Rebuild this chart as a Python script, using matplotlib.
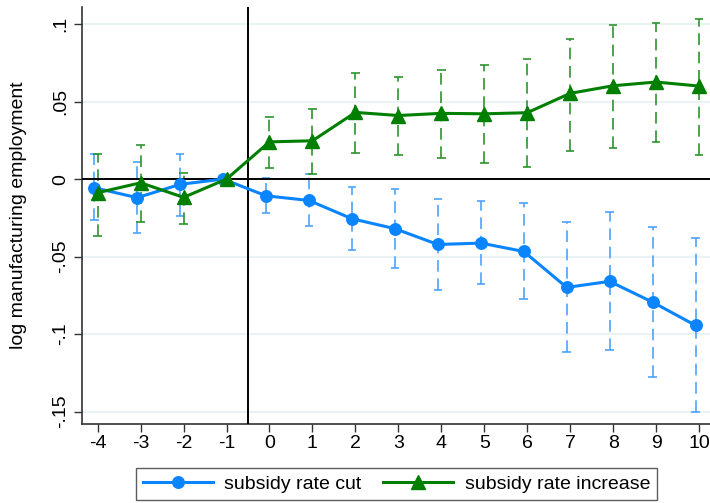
import matplotlib
matplotlib.use("Agg")
import matplotlib.pyplot as plt
import numpy as np

plt.rcParams['font.family'] = ['Liberation Sans', 'DejaVu Sans']

# Event time relative to the subsidy change
periods = [-4, -3, -2, -1, 0, 1, 2, 3, 4, 5, 6, 7, 8, 9, 10]
xtick_labels = [str(p) for p in periods]

# Subsidy rate cut: point estimates and 95% confidence bounds
cut_coef = [-0.0056, -0.012, -0.0034, 0.0, -0.0108, -0.0138, -0.0256, -0.032,
            -0.0422, -0.0413, -0.0467, -0.0699, -0.066, -0.0794, -0.0944]
cut_hi = [0.0163, 0.0108, 0.0163, 0.0, 0.0008, 0.003, -0.005, -0.0063,
          -0.0129, -0.0144, -0.0157, -0.028, -0.0215, -0.0308, -0.0383]
cut_lo = [-0.0265, -0.0346, -0.0237, 0.0, -0.0222, -0.0303, -0.0458, -0.0576,
          -0.0714, -0.0675, -0.0772, -0.1114, -0.1105, -0.1277, -0.1505]

# Subsidy rate increase: point estimates and 95% confidence bounds
inc_coef = [-0.0088, -0.0024, -0.0118, 0.0, 0.024, 0.0247, 0.043, 0.041,
            0.0424, 0.0421, 0.0428, 0.0553, 0.0602, 0.0626, 0.06]
inc_hi = [0.0163, 0.022, 0.004, 0.0, 0.0398, 0.0455, 0.0684, 0.0656,
          0.0706, 0.0734, 0.0776, 0.0905, 0.0996, 0.1005, 0.103]
inc_lo = [-0.037, -0.028, -0.029, 0.0, 0.0073, 0.003, 0.0166, 0.0155,
          0.0134, 0.0103, 0.0077, 0.018, 0.0202, 0.024, 0.0155]

yticks = [0.1, 0.05, 0.0, -0.05, -0.1, -0.15]
ytick_labels = ['.1', '.05', '0', '-.05', '-.1', '-.15']

blue = '#0a85ff'
blue_ci = '#4aa3ff'
green = '#007f00'
green_ci = '#2e932e'

fig = plt.figure(figsize=(7.10, 5.03), dpi=100)
ax = fig.add_axes([82 / 710, 1 - 424 / 503, (710 - 82) / 710, (424 - 7) / 503])

x = np.array(periods, dtype=float)
x_cut = x - 0.08
x_inc = x + 0.0


def draw_ci(xs, lo, hi, color):
    lo = np.array(lo)
    hi = np.array(hi)
    mask = hi != lo
    ax.vlines(xs[mask], lo[mask], hi[mask], colors=color, linewidth=1.2,
              linestyles=(0, (7, 4)), zorder=2)
    half = 0.1
    for xv, l, h in zip(xs[mask], lo[mask], hi[mask]):
        ax.plot([xv - half, xv + half], [h, h], color=color, lw=1.2, zorder=2,
                solid_capstyle='butt')
        ax.plot([xv - half, xv + half], [l, l], color=color, lw=1.2, zorder=2,
                solid_capstyle='butt')


draw_ci(x_cut, cut_lo, cut_hi, blue_ci)
draw_ci(x_inc, inc_lo, inc_hi, green_ci)

ax.axhline(0, color='black', lw=1.4, zorder=3)
ax.axvline(-0.5, color='black', lw=1.4, zorder=3)

ax.plot(x_cut, cut_coef, color=blue, lw=2.2, marker='o', markersize=8.3,
        zorder=4, label='subsidy rate cut')
ax.plot(x_inc, inc_coef, color=green, lw=2.2, marker='^', markersize=10,
        zorder=5, label='subsidy rate increase')

ax.set_xlim(-4.365, 10.256)
ax.set_ylim(-0.158, 0.111)

ax.set_xticks(periods)
ax.set_xticklabels(xtick_labels, fontsize=14)
ax.set_yticks(yticks)
ax.set_yticklabels(ytick_labels, fontsize=14, rotation=90, va='center')
ax.tick_params(axis='both', direction='out', length=5.5, width=1.0, color='#333333')
ax.tick_params(axis='x', pad=2.5)
ax.tick_params(axis='y', pad=3.5)

ax.grid(axis='y', color='#e8f0f2', lw=1.2, zorder=0)
ax.set_axisbelow(True)

for side in ['top', 'right']:
    ax.spines[side].set_visible(False)
for side in ['left', 'bottom']:
    ax.spines[side].set_color('#333333')
    ax.spines[side].set_linewidth(1.2)

ax.set_ylabel('log manufacturing employment', fontsize=14)
ax.yaxis.set_label_coords(-0.0876, 0.5)

leg = fig.legend(loc='center', bbox_to_anchor=((136 + 657) / 2 / 710, 1 - 484 / 503),
                 ncol=2, fontsize=14, frameon=True, fancybox=False,
                 edgecolor='#333333', handlelength=3.6, columnspacing=1.1,
                 borderpad=0.35, handletextpad=0.6)
leg.get_frame().set_linewidth(1.0)

fig.savefig('out.png', dpi=100)
